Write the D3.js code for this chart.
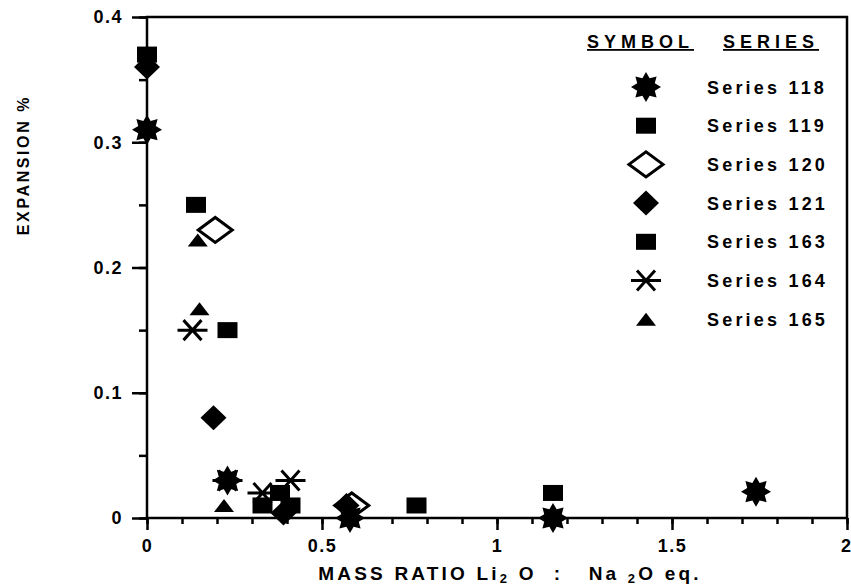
<!DOCTYPE html>
<html><head><meta charset="utf-8">
<script src="https://cdn.jsdelivr.net/npm/d3@7/dist/d3.min.js"></script>
<style>
body{margin:0;background:#fff;}
text{font-family:"Liberation Sans",Arial,sans-serif;font-weight:bold;fill:#000;}
</style></head><body>
<svg id="c" width="851" height="587"></svg>
<script>
// ---- data ----
const seriesNames = ["Series 118","Series 119","Series 120","Series 121","Series 163","Series 164","Series 165"];
const s118x = [0, 0.23, 0.58, 1.16, 1.74];
const s118y = [0.31, 0.03, 0.0, 0.0, 0.021];
const s119x = [0, 0.14, 0.23];
const s119y = [0.37, 0.25, 0.15];
const s120x = [0.195, 0.585];
const s120y = [0.23, 0.01];
const s121x = [0, 0.19, 0.39, 0.57];
const s121y = [0.36, 0.08, 0.004, 0.01];
const s163x = [0.33, 0.38, 0.41, 0.77, 1.16];
const s163y = [0.01, 0.02, 0.01, 0.01, 0.02];
const s164x = [0.13, 0.23, 0.33, 0.41];
const s164y = [0.15, 0.03, 0.02, 0.03];
const s165x = [0.145, 0.15, 0.22];
const s165y = [0.222, 0.167, 0.01];
const xTicks = [0, 0.5, 1, 1.5, 2];
const xTickLabels = ["0","0.5","1","1.5","2"];
const yTicks = [0, 0.1, 0.2, 0.3, 0.4];
const yTickLabels = ["0","0.1","0.2","0.3","0.4"];

const svg = d3.select("#c");
const L = 147, R = 847, T = 17, B = 518;
const x = d3.scaleLinear().domain([0, 2]).range([L, R]);
const y = d3.scaleLinear().domain([0, 0.4]).range([B, T]);

// ---- symbols ----
function starPath(ro, ri){
  const pts = [];
  for(let i=0;i<16;i++){
    const a = Math.PI/8*i - Math.PI/2;
    const r = i%2===0 ? ro : ri;
    pts.push([r*Math.cos(a), r*Math.sin(a)]);
  }
  return d3.line()(pts) + "Z";
}
const shapes = {
  star: g => g.append("path").attr("d", starPath(15, 9.5)).attr("fill","#000"),
  square: g => g.append("rect").attr("x",-10).attr("y",-8).attr("width",20).attr("height",16).attr("fill","#000"),
  openDiamond: g => g.append("path").attr("d", d3.line()([[-17,0],[0,-12.5],[17,0],[0,12.5]])+"Z")
      .attr("fill","none").attr("stroke","#000").attr("stroke-width",3),
  diamond: g => g.append("path").attr("d", d3.line()([[-13,0],[0,-12.5],[13,0],[0,12.5]])+"Z").attr("fill","#000"),
  asterisk: g => g.append("path").attr("d","M-15,0L15,0M-9,-10L9,10M9,-10L-9,10")
      .attr("stroke","#000").attr("stroke-width",3).attr("fill","none"),
  triangle: g => g.append("path").attr("d", d3.line()([[-10,6.5],[10,6.5],[0,-6.5]])+"Z").attr("fill","#000")
};
const series = [
  {name:seriesNames[0], xs:s118x, ys:s118y, shape:"star"},
  {name:seriesNames[1], xs:s119x, ys:s119y, shape:"square"},
  {name:seriesNames[2], xs:s120x, ys:s120y, shape:"openDiamond"},
  {name:seriesNames[3], xs:s121x, ys:s121y, shape:"diamond"},
  {name:seriesNames[4], xs:s163x, ys:s163y, shape:"square"},
  {name:seriesNames[5], xs:s164x, ys:s164y, shape:"asterisk"},
  {name:seriesNames[6], xs:s165x, ys:s165y, shape:"triangle"}
];
const drawOrder = [0,3,1,4,2,5,6];

// ---- axes ----
const xMinor = d3.range(0, 2.0001, 0.1);
const yMinor = d3.range(0, 0.40001, 0.05);
svg.append("g").attr("transform",`translate(0,${B})`)
  .call(d3.axisBottom(x).tickValues(xMinor).tickSize(6).tickFormat(""))
  .call(g=>{g.select(".domain").remove(); g.selectAll("line").attr("stroke-width",2.5);});
svg.append("g").attr("transform",`translate(0,${B})`)
  .call(d3.axisBottom(x).tickValues(xTicks).tickSize(12).tickFormat((d,i)=>xTickLabels[i]).tickPadding(9))
  .call(g=>{g.select(".domain").remove(); g.selectAll("line").attr("stroke-width",2.5);
    g.selectAll("text").attr("font-size",18).attr("letter-spacing",1.5)
      .style("font-family","Liberation Sans").style("font-weight","bold");
    g.selectAll("text").filter(d=>d===2).attr("text-anchor","end").attr("dx",5);});
svg.append("g").attr("transform",`translate(${L},0)`)
  .call(d3.axisLeft(y).tickValues(yMinor).tickSize(8).tickFormat(""))
  .call(g=>{g.select(".domain").remove(); g.selectAll("line").attr("stroke-width",2.5);});
svg.append("g").attr("transform",`translate(${L},0)`)
  .call(d3.axisLeft(y).tickValues(yTicks).tickSize(15).tickFormat((d,i)=>yTickLabels[i]).tickPadding(9))
  .call(g=>{g.select(".domain").remove(); g.selectAll("line").attr("stroke-width",2.5);
    g.selectAll("text").attr("font-size",18).attr("letter-spacing",1.5)
      .style("font-family","Liberation Sans").style("font-weight","bold");});

// frame
svg.append("rect").attr("x",L).attr("y",T).attr("width",R-L).attr("height",B-T)
  .attr("fill","none").attr("stroke","#000").attr("stroke-width",2.5);

// ---- points ----
drawOrder.forEach(si=>{
  const s = series[si];
  s.xs.forEach((xv,i)=>{
    const g = svg.append("g").attr("transform",`translate(${x(xv)},${y(s.ys[i])})`);
    shapes[s.shape](g);
  });
});

// ---- legend ----
svg.append("text").attr("x",587).attr("y",48).attr("font-size",18).attr("letter-spacing",5)
  .attr("text-decoration","underline").text("SYMBOL");
svg.append("text").attr("x",723).attr("y",48).attr("font-size",18).attr("letter-spacing",5)
  .attr("text-decoration","underline").text("SERIES");
series.forEach((s,i)=>{
  const cy = 87 + i*38.7;
  const g = svg.append("g").attr("transform",`translate(646,${cy})`);
  shapes[s.shape](g);
  svg.append("text").attr("x",707).attr("y",cy+6.5).attr("font-size",18).attr("letter-spacing",3.2).text(s.name);
});

// ---- axis titles ----
const xt = svg.append("text").attr("x",510).attr("y",580).attr("text-anchor","middle")
  .attr("font-size",19).attr("letter-spacing",3.2).style("white-space","pre");
xt.append("tspan").text("MASS RATIO Li");
xt.append("tspan").attr("font-size",13).attr("dy",3).text("2");
xt.append("tspan").attr("dy",-3).text(" O  :   Na ");
xt.append("tspan").attr("font-size",13).attr("dy",3).text("2");
xt.append("tspan").attr("dy",-3).text("O eq.");

svg.append("text").attr("transform","translate(29,165) rotate(-90)").attr("text-anchor","middle")
  .attr("font-size",16).attr("letter-spacing",2.6).text("EXPANSION %");
</script>
</body></html>
